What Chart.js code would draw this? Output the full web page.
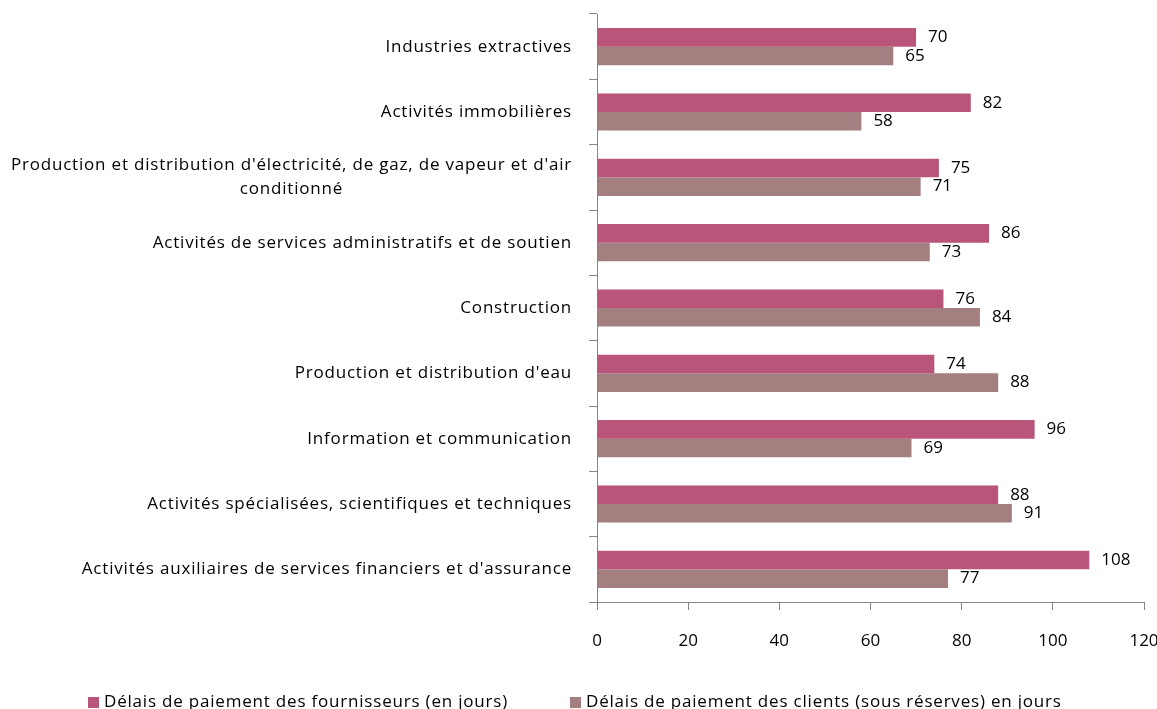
<!DOCTYPE html>
<html>
<head>
<meta charset="utf-8">
<script src="https://cdn.jsdelivr.net/npm/chart.js@4/dist/chart.umd.min.js"></script>
<style>
  html, body { margin: 0; padding: 0; background: #fff; }
  canvas { display: block; }
</style>
</head>
<body>
<canvas id="chart" width="1157" height="709"></canvas>
<script>
// categories, top to bottom
const categories = [
  'Industries extractives',
  'Activités immobilières',
  ["Production et distribution d'électricité, de gaz, de vapeur et d'air", 'conditionné'],
  'Activités de services administratifs et de soutien',
  'Construction',
  "Production et distribution d'eau",
  'Information et communication',
  'Activités spécialisées, scientifiques et techniques',
  "Activités auxiliaires de services financiers et d'assurance"
];
const seriesNames = [
  'Délais de paiement des fournisseurs (en jours)',
  'Délais de paiement des clients (sous réserves) en jours'
];
const fournisseurs = [70, 82, 75, 86, 76, 74, 96, 88, 108];
const clients = [65, 58, 71, 73, 84, 88, 69, 91, 77];
const xMin = 0, xMax = 120, xStep = 20;

const FONT = '"Open Sans", sans-serif';
const SIZE = 17;
const SPACING = '0.8px';
const colors = ['#B9547A', '#A47F80'];

// category labels drawn by hand so the two-line one can be centred
const yLabels = {
  id: 'yLabels',
  afterDraw(chart) {
    const ctx = chart.ctx;
    const y = chart.scales.y;
    ctx.save();
    ctx.font = SIZE + 'px ' + FONT;
    ctx.letterSpacing = SPACING;
    ctx.fillStyle = '#000';
    ctx.textBaseline = 'middle';
    const right = y.right - 25;
    categories.forEach((lab, i) => {
      const cy = y.getPixelForValue(i);
      const lines = Array.isArray(lab) ? lab : [lab];
      const w = Math.max(...lines.map(l => ctx.measureText(l).width));
      const lh = 24;
      lines.forEach((l, k) => {
        ctx.textAlign = 'center';
        ctx.fillText(l, right - w / 2, cy + (k - (lines.length - 1) / 2) * lh);
      });
    });
    ctx.restore();
  }
};

// numbers at the end of each bar
const valueLabels = {
  id: 'valueLabels',
  afterDatasetsDraw(chart) {
    const ctx = chart.ctx;
    ctx.save();
    ctx.font = SIZE + 'px ' + FONT;
    ctx.fillStyle = '#000';
    ctx.textBaseline = 'middle';
    ctx.textAlign = 'left';
    chart.data.datasets.forEach((ds, di) => {
      chart.getDatasetMeta(di).data.forEach((bar, i) => {
        ctx.fillText(ds.data[i], bar.x + 12, bar.y);
      });
    });
    ctx.restore();
  }
};

// legend at the bottom, partly cut off like the original
const bottomLegend = {
  id: 'bottomLegend',
  afterDraw(chart) {
    const ctx = chart.ctx;
    ctx.save();
    ctx.font = SIZE + 'px ' + FONT;
    ctx.letterSpacing = SPACING;
    ctx.textBaseline = 'middle';
    ctx.textAlign = 'left';
    const starts = [88, 570];
    chart.data.datasets.forEach((ds, i) => {
      ctx.fillStyle = ds.backgroundColor;
      ctx.fillRect(starts[i], 697, 11, 11);
      ctx.fillStyle = '#000';
      ctx.fillText(ds.label, starts[i] + 16, 702);
    });
    ctx.restore();
  }
};

new Chart(document.getElementById('chart'), {
  type: 'bar',
  data: {
    labels: categories,
    datasets: [
      { label: seriesNames[0], data: fournisseurs, backgroundColor: colors[0],
        categoryPercentage: 0.57, barPercentage: 1.0 },
      { label: seriesNames[1], data: clients, backgroundColor: colors[1],
        categoryPercentage: 0.57, barPercentage: 1.0 }
    ]
  },
  options: {
    indexAxis: 'y',
    responsive: false,
    animation: false,
    devicePixelRatio: 1,
    layout: { padding: { top: 14, right: 13, left: 0, bottom: 0 } },
    plugins: {
      legend: { display: false },
      tooltip: { enabled: false }
    },
    scales: {
      x: {
        min: xMin,
        max: xMax,
        ticks: { stepSize: xStep, color: '#000', font: { family: FONT, size: SIZE }, padding: 21 },
        grid: { drawOnChartArea: false, drawTicks: true, tickLength: 8, color: '#868686' },
        border: { color: '#868686' },
        afterFit(scale) {
          scale.height = 107;
          scale.paddingLeft = 0;
          scale.paddingRight = 0;
        }
      },
      y: {
        ticks: { display: false },
        grid: { drawOnChartArea: false, drawTicks: true, tickLength: 8, color: '#868686' },
        border: { color: '#868686' },
        afterFit(scale) { scale.width = 597; }
      }
    }
  },
  plugins: [yLabels, valueLabels, bottomLegend]
});
</script>
</body>
</html>
